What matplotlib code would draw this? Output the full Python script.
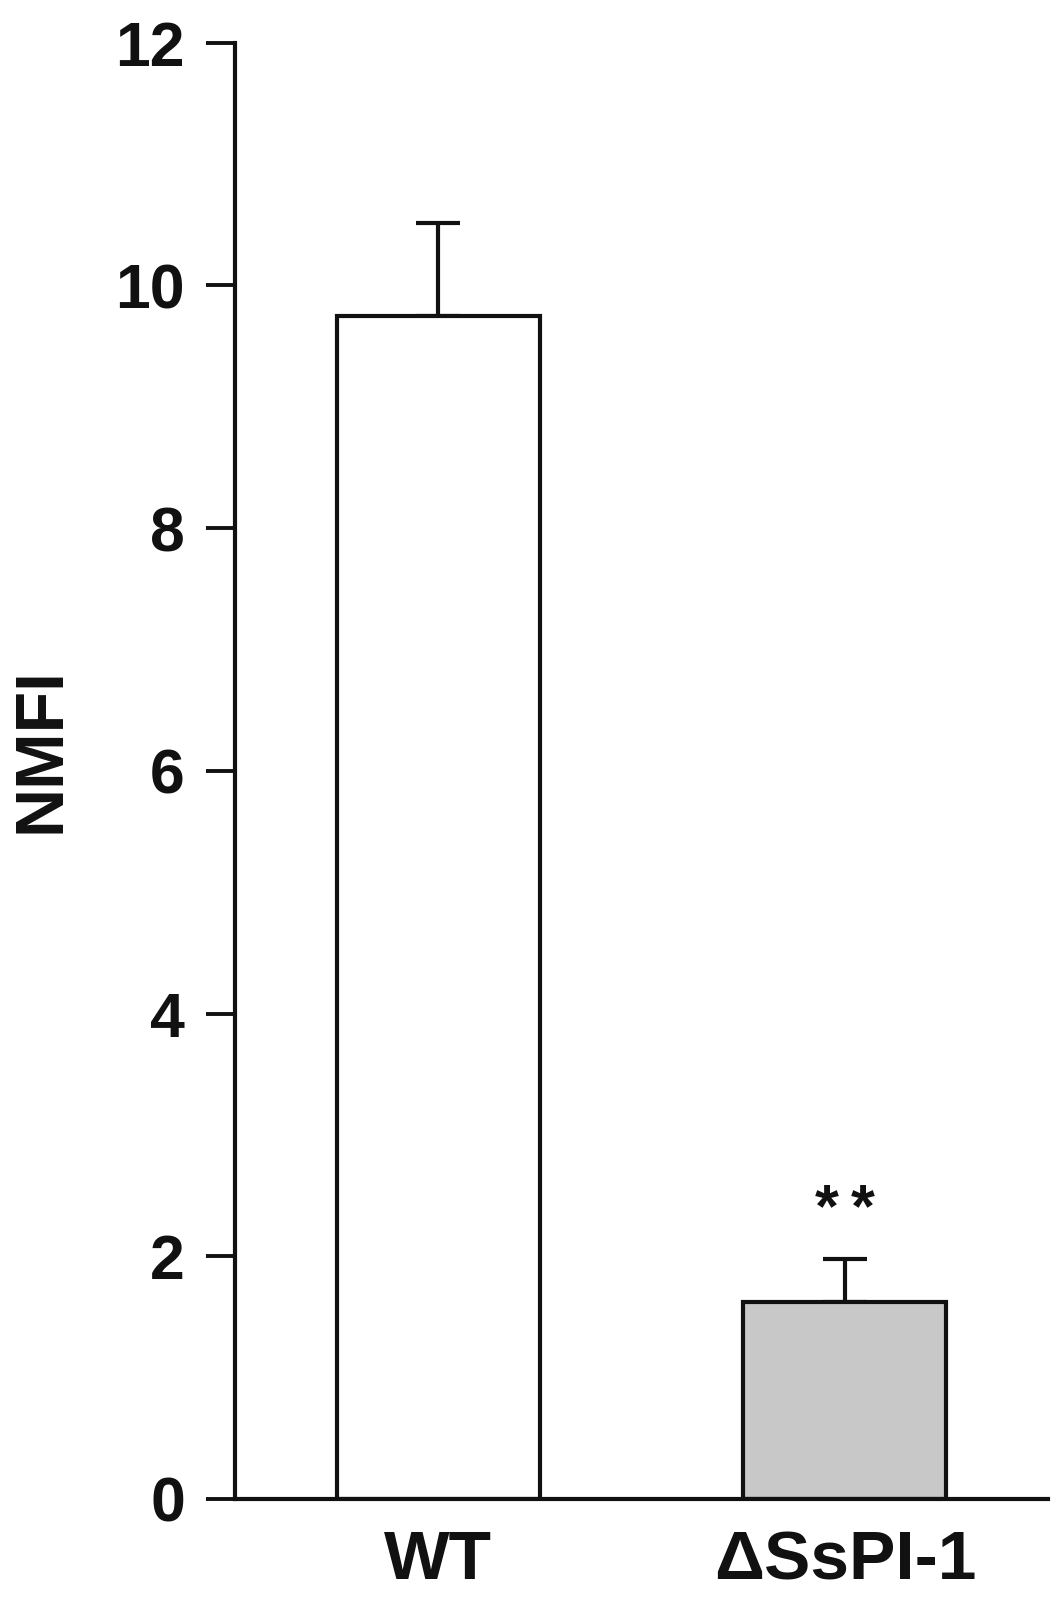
import numpy as np
import matplotlib
matplotlib.use("Agg")
import matplotlib.pyplot as plt

# values
groups = ["WT", "\u0394SsPI-1"]
nmfi = [9.75, 1.62]
nmfi_err = [0.76, 0.36]
bar_colors = ["white", "#c8c8c8"]
yticks = [0, 2, 4, 6, 8, 10, 12]
n_stars = [0, 2]

plt.rcParams["font.family"] = ["Liberation Sans", "DejaVu Sans"]
plt.rcParams["font.weight"] = "bold"

fig = plt.figure(figsize=(10.63, 16.09), dpi=100)
ax = fig.add_axes([0.221, 0.0684, 0.765, 0.9051])

x = np.arange(len(groups))
lower = np.zeros(len(groups))
ax.bar(x, nmfi, width=0.5, color=bar_colors, edgecolor="#111111",
       linewidth=3.0, zorder=2)
ax.errorbar(x, nmfi, yerr=[lower, nmfi_err], fmt="none", ecolor="#111111",
            elinewidth=3.0, capsize=16, capthick=3.0, zorder=1)

# significance stars above the error bar, spaced a bit apart
for xi, yi, ei, n in zip(x, nmfi, nmfi_err, n_stars):
    offs = (np.arange(n) - (n - 1) / 2) * 26
    for dx in offs:
        ax.annotate("*", xy=(xi, yi + ei + 0.27), xytext=(dx, 0),
                    textcoords="offset points", ha="center", va="baseline",
                    fontsize=44, fontweight="bold", color="#111111")

ax.set_xlim(-0.5, 1.5)
ax.set_ylim(0, 12)
ax.set_yticks(yticks)
ax.set_xticks(x)
ax.set_xticklabels(groups, fontsize=50, fontweight="bold")
ax.tick_params(axis="y", direction="out", length=21, width=2.8,
               pad=15, labelsize=45, colors="#111111")
ax.tick_params(axis="x", length=0, pad=22, colors="#111111")

for side in ["top", "right"]:
    ax.spines[side].set_visible(False)
for side in ["left", "bottom"]:
    ax.spines[side].set_linewidth(3.0)
    ax.spines[side].set_color("#111111")

fig.text(42 / 1063, 1 - 750 / 1609, "NMFI", rotation=90, ha="center",
         va="center", fontsize=49, fontweight="bold", color="#111111")

fig.savefig("out.png", dpi=100, facecolor="white")
